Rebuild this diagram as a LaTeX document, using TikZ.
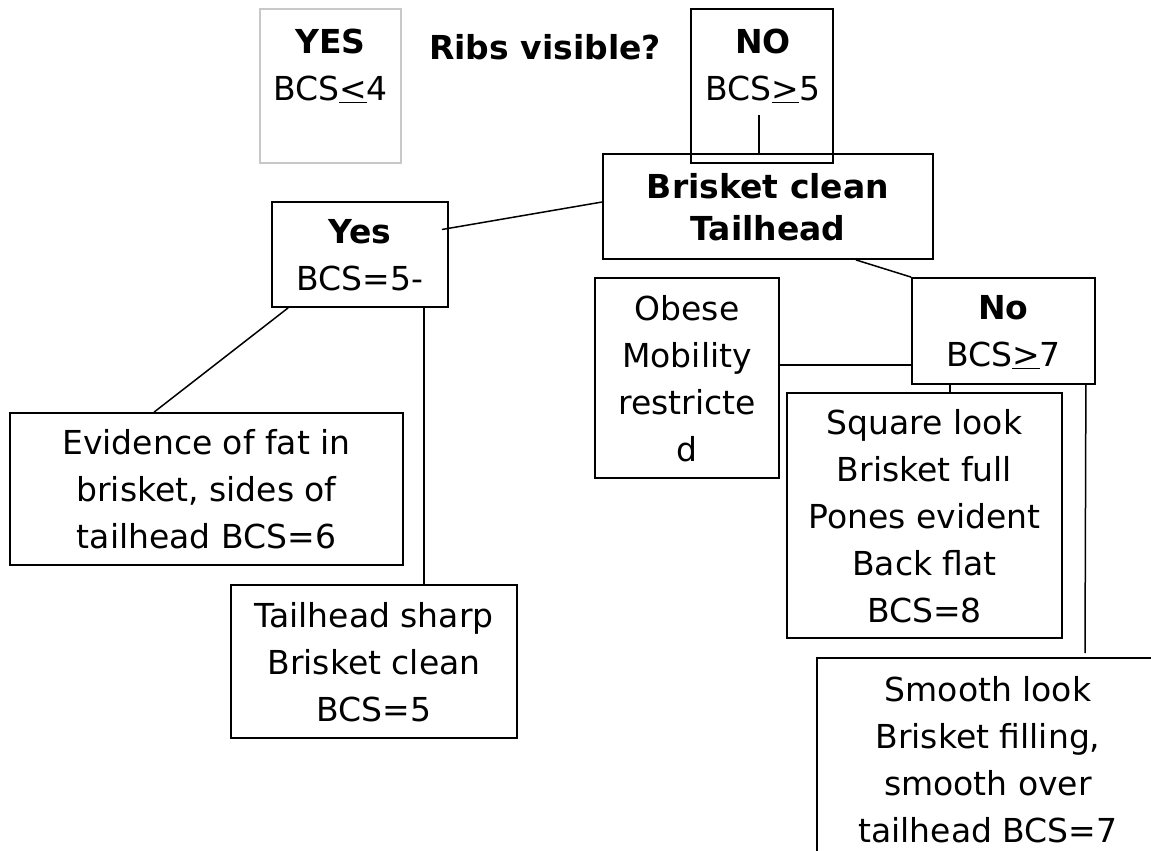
\documentclass[tikz,border=0pt]{standalone}
\usepackage{fontspec}
\setmainfont{DejaVu Sans}
\definecolor{faded}{RGB}{200,200,200}

\begin{document}
\begin{tikzpicture}
    [
        x=1pt,y=-1pt,
        font=\fontsize{33pt}{47pt}\selectfont,
        box/.style={draw, line width=1.8pt, align=center, inner sep=0pt, text depth=0pt},
        greybox/.style={draw=faded, line width=1.8pt, minimum width=141pt, minimum height=154pt},
        caption/.style={align=center, inner sep=0pt, text depth=0pt}
    ]
    \tikzstyle{line} = [draw, line width=1.5pt]

    \useasboundingbox (0,0) rectangle (1151,851);
    \clip (0,0) rectangle (1151,851);

    \node[greybox] (yes_box) at (330.5,86) {};
    \node[caption] (yes_text) at (330.5,65) {\textbf{YES}\\BCS\underline{<}4};
    \node[caption] (ribs) at (545,47) {\textbf{Ribs visible?}};
    \node[box, minimum width=142pt, minimum height=154pt] (no_box) at (762,86) {};
    \node[caption] (no_text) at (763,65) {\textbf{NO}\\BCS\underline{>}5};

    \node[box, minimum width=330pt, minimum height=105pt] (brisket) at (768,206.5) {\textbf{Brisket clean}\\[-5pt]\textbf{Tailhead}};
    \node[box, minimum width=176pt, minimum height=105pt] (yes_br) at (360,254.5) {\textbf{Yes}\\BCS=5-};
    \node[box, minimum width=393pt, minimum height=152pt] (fat) at (206.5,489) {Evidence of fat in\\brisket, sides of\\tailhead BCS=6};
    \node[box, minimum width=286pt, minimum height=153pt] (sharp) at (374,661.5) {Tailhead sharp\\Brisket clean\\BCS=5};

    \node[box, minimum width=183pt, minimum height=106pt] (no_br) at (1003.5,331) {\textbf{No}\\BCS\underline{>}7};
    \node[box, minimum width=184pt, minimum height=200pt] (obese) at (687,378) {Obese\\Mobility\\restricte\\d};
    \node[box, minimum width=275pt, minimum height=245pt] (square) at (924.5,515.5) {Square look\\Brisket full\\Pones evident\\Back flat\\BCS=8};
    \node[box, minimum width=342pt, minimum height=202pt] (smooth) at (988,759) {Smooth look\\Brisket filling,\\smooth over\\tailhead BCS=7};

    \coordinate (no_stem) at (759,115);
    \coordinate (sharp_stem) at ([xshift=-25pt]yes_br.south east);
    \coordinate (obese_join) at ([yshift=13pt]obese.east);
    \coordinate (square_stem) at ([xshift=39pt]no_br.south west);
    \coordinate (smooth_stem) at ([xshift=-10pt]no_br.south east);
    \coordinate (smooth_end) at (1085,653);

    \path[line] (no_stem) edge (no_stem |- brisket.north);
    \path[line] ([yshift=4.5pt]brisket.west) edge ([xshift=-7pt,yshift=25pt]yes_br.east);
    \path[line] ([xshift=17pt]yes_br.south west) edge ([xshift=145pt]fat.north west);
    \path[line] (sharp_stem) edge (sharp_stem |- sharp.north);
    \path[line] ([xshift=-78pt]brisket.south east) edge (no_br.north west);
    \path[line] (obese_join) edge (obese_join -| no_br.west);
    \path[line] (square_stem) edge (square_stem |- square.north);
    \path[line] (smooth_stem) edge (smooth_end);
\end{tikzpicture}
\end{document}
